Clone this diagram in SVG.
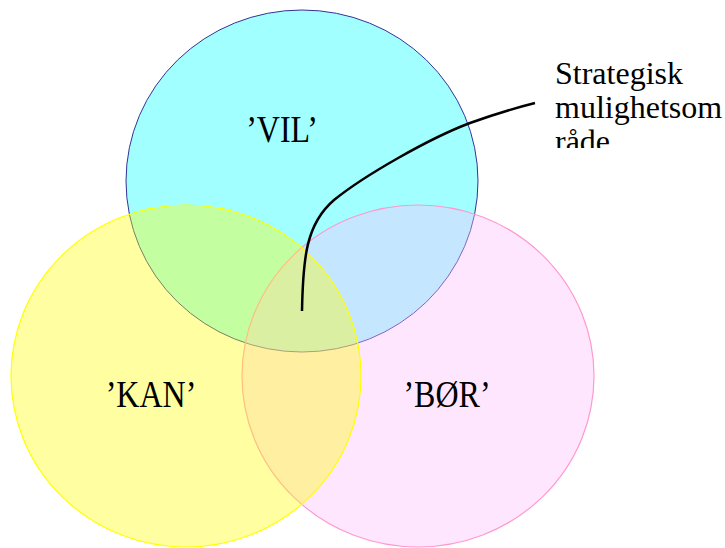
<svg xmlns="http://www.w3.org/2000/svg" width="725" height="548" viewBox="0 0 725 548">
<style>
.lbl{font-family:"Liberation Serif","Times New Roman",serif;font-size:32px;fill:#000}
</style>
<defs>
<clipPath id="txtclip"><rect x="540" y="50" width="185" height="98"/></clipPath>
</defs>
<rect width="725" height="548" fill="#fff"/>
<g id="vil">
<ellipse cx="302" cy="181" rx="176" ry="171" fill="#00ffff" fill-opacity="0.37" stroke="#333399" stroke-width="1"/>
</g>
<g id="bor">
<ellipse cx="418" cy="376" rx="176" ry="171" fill="#ffbdff" fill-opacity="0.38" stroke="#ff99cc" stroke-width="1.2"/>
</g>
<g id="kan">
<ellipse cx="186" cy="376" rx="175" ry="171" fill="#ffff00" fill-opacity="0.37" stroke="#ffff00" stroke-width="1.2"/>
</g>
<g id="labels">
<text class="lbl" transform="translate(282,142) scale(1,1.2)" text-anchor="middle">’VIL’</text>
<text class="lbl" transform="translate(151,407) scale(1,1.2)" text-anchor="middle">’KAN’</text>
<text class="lbl" transform="translate(447,407) scale(1,1.2)" text-anchor="middle">’BØR’</text>
</g>
<g id="connectors">
<path d="M302,311 C303,258 306,224 334,200 C365,175 430,138 470,123 C495,114 515,108 535,103" fill="none" stroke="#000" stroke-width="2.5"/>
</g>
<g id="strategisk" clip-path="url(#txtclip)">
<text class="lbl" x="555" y="84">Strategisk</text>
<text class="lbl" x="555" y="118">mulighetsom</text>
<text class="lbl" x="555" y="152">råde</text>
</g>
</svg>
